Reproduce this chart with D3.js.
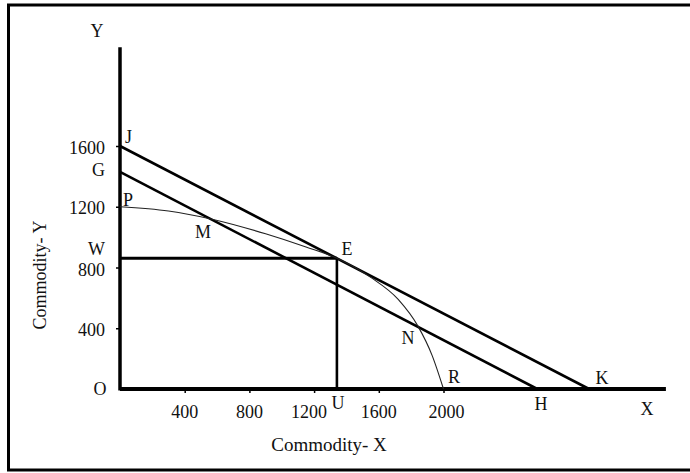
<!DOCTYPE html>
<html><head><meta charset="utf-8">
<script src="https://cdn.jsdelivr.net/npm/d3@7"></script>
<style>
html,body{margin:0;padding:0;background:#fff;}
svg{display:block;}
text{font-family:"Liberation Serif","Times New Roman",serif;fill:#111;}
</style></head>
<body>
<svg id="chart" width="690" height="473"></svg>
<script>
// ---- data ----
const xTicks = [400, 800, 1200, 1600, 2000];
const yTicks = [400, 800, 1200, 1600];
const xTickLabels = ["400", "800", "1200", "1600", "2000"];
const yTickLabels = ["400", "800", "1200", "1600"];
const lineJK = [[0, 1600], [2900, 0]];
const lineGH = [[0, 1430], [2580, 0]];
const pointE = [1341, 861];
const curvePR = [[0, 1200], [300, 1172], [569, 1118], [900, 1022], [1150, 935], [1341, 861], [1550, 735], [1720, 590], [1842, 414], [1930, 220], [2000, 0]];
const axisMaxX = 3375, axisMaxY = 2250;

const svg = d3.select("#chart");
const x = d3.scaleLinear().domain([0, 2000]).range([120, 443.5]);
const y = d3.scaleLinear().domain([0, 1600]).range([389, 146]);

// frame
svg.append("rect").attr("x", 8.5).attr("y", 5).attr("width", 700).attr("height", 465)
  .attr("fill", "none").attr("stroke", "#000").attr("stroke-width", 3);

// axes ticks
const gx = svg.append("g").attr("transform", `translate(0,${y(0)})`)
  .call(d3.axisBottom(x).tickValues(xTicks).tickSize(4).tickFormat(""));
gx.select(".domain").remove();
gx.selectAll(".tick line").attr("stroke", "#000").attr("stroke-width", 1.5);
const gy = svg.append("g").attr("transform", `translate(${x(0)},0)`)
  .call(d3.axisLeft(y).tickValues(yTicks).tickSize(4).tickFormat(""));
gy.select(".domain").remove();
gy.selectAll(".tick line").attr("stroke", "#000").attr("stroke-width", 1.5);

// axis lines
svg.append("line").attr("x1", x(0)).attr("x2", x(0)).attr("y1", y(axisMaxY)).attr("y2", y(0) + 1.5)
  .attr("stroke", "#000").attr("stroke-width", 3.5);
svg.append("line").attr("x1", x(0)).attr("x2", x(axisMaxX)).attr("y1", y(0)).attr("y2", y(0))
  .attr("stroke", "#000").attr("stroke-width", 4);

const line = d3.line().x(d => x(d[0])).y(d => y(d[1]));

// budget lines
svg.append("path").attr("d", line(lineJK)).attr("fill", "none").attr("stroke", "#000").attr("stroke-width", 2.6);
svg.append("path").attr("d", line(lineGH)).attr("fill", "none").attr("stroke", "#000").attr("stroke-width", 2.6);

// W-E and E-U
svg.append("path").attr("d", line([[0, pointE[1]], pointE])).attr("fill", "none").attr("stroke", "#000").attr("stroke-width", 3);
svg.append("path").attr("d", line([pointE, [pointE[0], 0]])).attr("fill", "none").attr("stroke", "#000").attr("stroke-width", 2.6);

// PPF curve
svg.append("path").attr("d", d3.line().x(d => x(d[0])).y(d => y(d[1])).curve(d3.curveMonotoneX)(curvePR))
  .attr("fill", "none").attr("stroke", "#222").attr("stroke-width", 1.1);

// tick labels
const fs = 18;
const xLabelOffset = [0, 0, -5, 0, 3];
svg.selectAll(".xl").data(xTicks).enter().append("text")
  .attr("x", (d, i) => x(d) + xLabelOffset[i]).attr("y", 418).attr("text-anchor", "middle")
  .attr("font-size", fs).text((d, i) => xTickLabels[i]);
svg.selectAll(".yl").data(yTicks).enter().append("text")
  .attr("x", 105).attr("y", d => y(d) + (d === 800 ? 8.5 : 7.5)).attr("text-anchor", "end")
  .attr("font-size", fs).text((d, i) => yTickLabels[i]);

// point labels
const labels = [
  ["Y", 97, 37, "middle"], ["J", 125, 143, "start"], ["G", 105, 176, "end"],
  ["P", 123, 206, "start"], ["M", 203, 238, "middle"], ["W", 105, 255, "end"],
  ["E", 347, 255, "middle"], ["N", 408, 344, "middle"], ["R", 454, 383, "middle"],
  ["K", 602, 384, "middle"], ["O", 100, 395, "middle"], ["U", 338, 409, "middle"],
  ["H", 541, 410, "middle"], ["X", 647, 415, "middle"]
];
svg.selectAll(".pl").data(labels).enter().append("text")
  .attr("x", d => d[1]).attr("y", d => d[2]).attr("text-anchor", d => d[3])
  .attr("font-size", fs).text(d => d[0]);

// axis titles
svg.append("text").attr("x", 329).attr("y", 451).attr("text-anchor", "middle")
  .attr("font-size", 19).text("Commodity- X");
svg.append("text").attr("transform", "translate(46,275) rotate(-90)").attr("text-anchor", "middle")
  .attr("font-size", 18).text("Commodity- Y");
</script>
</body></html>
